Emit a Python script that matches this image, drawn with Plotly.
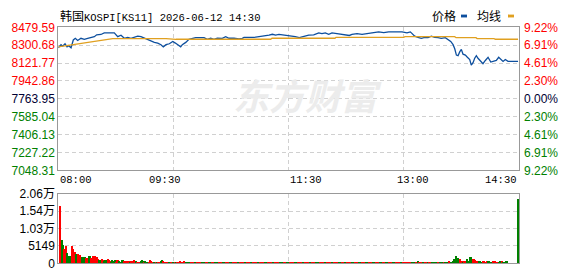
import plotly.graph_objects as go

# ---------------- data ----------------
prev_close = 7763.95
price_ticks = [8479.59, 8300.68, 8121.77, 7942.86, 7763.95, 7585.04, 7406.13, 7227.22, 7048.31]
pct_ticks = ["9.22%", "6.91%", "4.61%", "2.30%", "0.00%", "2.30%", "4.61%", "6.91%", "9.22%"]
vol_ticks = [0, 5149, 10298, 15447, 20596]
vol_tick_text = ["0", "5149", "1.03万", "1.54万", "2.06万"]
time_label_min = [0, 90, 210, 300, 390]
time_labels = ["08:00", "09:30", "11:30", "13:00", "14:30"]
grid_min = [97.5, 195, 292.5]

# minutes after 08:00 and price
price_time = [0, 2.3, 3.7, 5.7, 7.4, 8.8, 10.8, 12.7, 14.4, 16.4, 19.2, 22.0, 24.9, 27.7, 30.5,
              32.5, 36.1, 38.9, 43.2, 46.1, 47.4, 50.3, 53.1, 55.9, 58.8, 61.5, 64.3, 67.2, 70.0,
              72.8, 75.7, 78.5, 81.3, 84.2, 86.9, 88.9, 91.2, 94.0, 96.9, 99.1, 100.7, 103.6, 105.0,
              107.9, 110.6, 113.4, 116.3, 123.4, 126.1, 129.0, 131.8, 134.6, 138.8, 141.7, 144.5,
              148.7, 153.0, 155.8, 157.2, 165.7, 169.9, 172.7, 175.6, 178.4, 181.2, 184.0, 186.8,
              191.1, 195.3, 199.0, 200.6, 204.0, 207.8, 212.0, 216.2, 220.5, 223.2, 226.0, 228.9,
              231.7, 235.9, 240.2, 244.4, 246.4, 248.6, 252.9, 257.1, 261.3, 264.1, 268.4, 271.2,
              275.5, 279.7, 285.3, 291.0, 295.2, 298.0, 298.9, 301.7, 304.5, 307.3, 310.2, 313.0,
              315.8, 318.7, 321.5, 324.2, 327.6, 329.9, 332.2, 334.2, 335.6, 337.0, 338.4, 339.8,
              341.2, 342.6, 344.6, 346.3, 348.3, 349.6, 351.1, 352.5, 353.9, 355.3, 357.6, 359.5,
              361.5, 363.8, 366.1, 368.0, 370.8, 372.8, 374.5, 376.5, 378.4, 380.7, 389.2]
price_value = [8275, 8306, 8291, 8315, 8284, 8296, 8275, 8353, 8370, 8348, 8370, 8360, 8370, 8379, 8386,
               8405, 8408, 8424, 8424, 8417, 8424, 8386, 8401, 8370, 8379, 8370, 8379, 8391, 8386,
               8370, 8360, 8338, 8329, 8322, 8306, 8284, 8306, 8315, 8338, 8322, 8306, 8284, 8306,
               8329, 8360, 8370, 8376, 8376, 8360, 8370, 8360, 8372, 8370, 8386, 8370,
               8370, 8363, 8370, 8379, 8379, 8386, 8391, 8391, 8401, 8410, 8401, 8408,
               8401, 8395, 8395, 8386, 8376, 8391, 8401, 8405, 8424, 8417, 8424, 8410,
               8424, 8417, 8410, 8408, 8398, 8408, 8417, 8410, 8417, 8424, 8427, 8433,
               8427, 8433, 8433, 8433, 8424, 8433, 8424, 8391, 8379, 8370, 8379, 8376,
               8391, 8379, 8376, 8370, 8376, 8360, 8338, 8306, 8265, 8202, 8196, 8234,
               8259, 8211, 8202, 8180, 8158, 8101, 8126, 8170, 8196, 8170, 8139, 8116,
               8148, 8180, 8132, 8139, 8148, 8180, 8158, 8139, 8158, 8139, 8139]

avg_time = [0, 6.5, 12.2, 17.8, 23.5, 29.1, 34.7, 40.4, 46.1, 91.2, 99.6, 179.8, 180.9, 234.2, 235.1,
            292.4, 293.5, 335.6, 336.7, 353.6, 354.5, 368.9, 369.8, 389.2]
avg_value = [8284, 8296, 8306, 8315, 8329, 8338, 8348, 8360, 8367, 8367, 8360, 8360, 8370, 8370, 8379,
             8379, 8386, 8386, 8376, 8376, 8367, 8367, 8360, 8360]

# per-minute volume (index = minutes after 08:00)
volume = [
    0, 0, 17100, 7000, 5600, 4400, 3700, 5300, 3100, 2300,
    2150, 1700, 5150, 4200, 3450, 2800, 2800, 2800, 2350, 2550,
    1900, 1900, 1900, 1900, 1600, 1600, 2300, 2300, 1600, 1600,
    2150, 2150, 1900, 1900, 1400, 1200, 1200, 1400, 1150, 900,
    1200, 1200, 1400, 1000, 800, 600, 950, 650, 950, 500,
    950, 1200, 850, 500, 1200, 1000, 750, 650, 700, 650,
    800, 400, 650, 650, 950, 500, 700, 600, 400, 450,
    650, 950, 650, 450, 650, 600, 400, 500, 950, 650,
    400, 350, 500, 450, 600, 480, 470, 700, 1120, 700,
    500, 400, 350, 300, 400, 350, 300, 400, 450, 300,
    380, 350, 420, 750, 560, 560, 480, 620, 500, 300,
    280, 320, 300, 420, 380, 300, 260, 280, 350, 300,
    280, 250, 300, 260, 240, 300, 280, 260, 250, 280,
    300, 260, 280, 240, 250, 280, 300, 260, 240, 270,
    260, 280, 250, 300, 240, 260, 280, 250, 300, 260,
    250, 280, 260, 300, 240, 280, 250, 260, 300, 240,
    260, 240, 280, 250, 260, 300, 250, 240, 260, 280,
    250, 260, 300, 280, 250, 240, 260, 280, 250, 260,
    280, 250, 260, 240, 250, 280, 300, 260, 250, 240,
    250, 260, 280, 250, 240, 260, 280, 250, 300, 260,
    250, 240, 260, 280, 250, 260, 240, 250, 280, 260,
    250, 260, 240, 280, 250, 260, 300, 250, 280, 360,
    500, 560, 300, 260, 250, 280, 260, 240, 250, 260,
    250, 260, 280, 240, 250, 260, 240, 280, 250, 260,
    260, 240, 250, 280, 260, 250, 240, 260, 280, 250,
    240, 260, 250, 280, 260, 250, 240, 260, 250, 280,
    250, 260, 240, 280, 250, 260, 240, 250, 260, 280,
    260, 250, 280, 240, 250, 260, 280, 250, 260, 240,
    250, 260, 280, 250, 240, 260, 250, 280, 260, 250,
    260, 250, 240, 280, 250, 260, 280, 280, 280, 280,
    300, 560, 560, 280, 300, 840, 560, 300, 250, 280,
    280, 280, 280, 280, 280, 280, 250, 280, 280, 280,
    280, 280, 250, 280, 280, 280, 280, 250, 280, 280,
    280, 840, 280, 280, 650, 1400, 1400, 2250, 940, 1690,
    1220, 650, 650, 470, 840, 840, 1220, 650, 650, 1970,
    1970, 1400, 1400, 1030, 650, 650, 650, 650, 470, 470,
    840, 840, 470, 650, 650, 840, 470, 470, 650, 650,
    650, 470, 470, 470, 840, 840, 650, 470, 470, 840,
    840, 0, 0, 0, 0, 0, 0, 0, 0, 19200,
]
# R = price up in that minute, G = down
volume_dir = "".join([
    "RRRGGRRRGG", "GGRRRGGRRR", "GGGGRRGGRR", "RRRRRGGRRG", "GGRRRGGGGR",
    "RRGGGGRRRR", "RGRRRRGRRR", "GGGRGGGRRR", "RGGRGRRGGR", "RRRRGGRGGR",
    "GRRRRRRRGG", "GGGRRRGGRR", "RRGGGRRRGG", "RRRGGGRRRR", "GGRRRRGGRR",
    "RRGGRRRRGG", "RRRGGRRRRG", "GRRRRGGGRR", "RRGGRRRRGG", "GRRRGGRRRR",
    "RGGRRRRGGR", "RRRGGRRRGG", "GGRRRRGGRR", "RRGGRRRRGG", "RRRGGRRRRG",
    "GRRRRGGRRR", "RGGRRRRGGR", "RRRGGRRRGG", "RRRRGGRRRR", "GGRRRRRRRR",
    "GGGRRGRRRG", "GRRGRRRGGG", "GGRGGGGRGG", "GRRGGGGGGG", "RRRGRRGGGG",
    "GRRRRRGGGG", "RRRRGGGGRR", "RRRGGGRGGG", "GGGGGGGGGG",
])
vol_minutes = list(range(len(volume)))

# ---------------- styling ----------------
W, H = 578, 276
RED, GREEN, NAVY = "#ff0000", "#008000", "#000033"
BLUE_LINE, GOLD_LINE = "#0d4f9e", "#e0a020"
PX_L, PX_R = 58.3, 519.0
P_TOP, P_BOT = 21.4, 172.2
V_TOP, V_BOT = 196.7, 270.0

def xd(px):
    return px / W

def yd(py):
    return (H - py) / H

bar_colors = [RED if (volume_dir[i] if i < len(volume_dir) else "G") == "R" else GREEN
              for i in range(len(volume))]

def tick_color(v):
    if v > prev_close + 0.01:
        return RED
    if v < prev_close - 0.01:
        return GREEN
    return NAVY

left_text = [f'<span style="color:{tick_color(v)}">{v:.2f}</span>' for v in price_ticks]
right_text = [f'<span style="color:{tick_color(v)}">{t}</span>' for v, t in zip(price_ticks, pct_ticks)]

fig = go.Figure()
fig.add_trace(go.Scatter(x=avg_time, y=avg_value, mode="lines",
                         line=dict(color=GOLD_LINE, width=1.3), xaxis="x", yaxis="y3",
                         hoverinfo="skip"))
fig.add_trace(go.Scatter(x=price_time, y=price_value, mode="lines",
                         line=dict(color=BLUE_LINE, width=1.3), xaxis="x", yaxis="y",
                         hoverinfo="skip"))
fig.add_trace(go.Bar(x=vol_minutes, y=volume, marker=dict(color=bar_colors, line=dict(width=0)),
                     width=0.85, xaxis="x2", yaxis="y2", hoverinfo="skip"))

grid = dict(showgrid=True, gridcolor="#d0d0d0", griddash="4px,3px", gridwidth=1)
frame = dict(showline=True, mirror=True, linecolor="#999999", linewidth=1, zeroline=False, ticks="")
tickfont = dict(family="Liberation Sans, Arial, Noto Sans CJK SC", size=12)

fig.update_layout(
    width=W, height=H, autosize=False,
    margin=dict(l=0, r=0, t=0, b=0),
    paper_bgcolor="white", plot_bgcolor="white",
    showlegend=False, bargap=0,
    xaxis=dict(domain=[xd(PX_L), xd(PX_R)], range=[0, 390], tickvals=grid_min,
               showticklabels=False, anchor="y", **grid, **frame),
    yaxis=dict(domain=[yd(P_BOT), yd(P_TOP)], range=[price_ticks[-1], price_ticks[0]],
               tickvals=price_ticks, ticktext=left_text, tickfont=tickfont, anchor="x",
               **grid, **frame),
    yaxis3=dict(overlaying="y", side="right", range=[price_ticks[-1], price_ticks[0]],
                tickvals=price_ticks, ticktext=right_text, tickfont=tickfont, anchor="x",
                showgrid=False, zeroline=False, showline=False, ticks="", ticklabelstandoff=4),
    xaxis2=dict(domain=[xd(PX_L), xd(PX_R)], range=[0, 390], tickvals=grid_min,
                showticklabels=False, anchor="y2", **grid, **frame),
    yaxis2=dict(domain=[yd(V_BOT), yd(V_TOP)], range=[0, vol_ticks[-1]],
                tickvals=vol_ticks, ticktext=vol_tick_text,
                tickfont=dict(family="Liberation Sans, Arial, Noto Sans CJK SC", size=12, color="#000000"),
                anchor="x2", **grid, **frame),
)

annotations = []
# time labels
for m, lab in zip(time_label_min, time_labels):
    anchor = "left" if m == time_label_min[0] else ("right" if m == time_label_min[-1] else "center")
    annotations.append(dict(x=m, xref="x", y=yd(182.5), yref="paper", text=lab, showarrow=False,
                            xanchor=anchor, yanchor="middle",
                            font=dict(family="Liberation Mono, DejaVu Sans Mono", size=10.5, color="#000000")))
# title
annotations.append(dict(x=xd(58), y=yd(8.5), xref="paper", yref="paper", xanchor="left", yanchor="middle",
                        showarrow=False,
                        text='<span style="font-family:Noto Sans CJK SC;font-size:12px">韩国</span>KOSPI[KS11] 2026-06-12 14:30',
                        font=dict(family="Liberation Mono, DejaVu Sans Mono", size=10.5, color="#000000")))
# legend labels
annotations.append(dict(x=xd(443.5), y=yd(9), xref="paper", yref="paper", showarrow=False,
                        xanchor="center", yanchor="middle",
                        text="价格", font=dict(family="Noto Sans CJK SC", size=12, color="#000000")))
annotations.append(dict(x=xd(488.5), y=yd(9), xref="paper", yref="paper", showarrow=False,
                        xanchor="center", yanchor="middle",
                        text="均线", font=dict(family="Noto Sans CJK SC", size=12, color="#000000")))
# watermark
annotations.append(dict(x=xd(308), y=yd(92), xref="paper", yref="paper", showarrow=False,
                        xanchor="center", yanchor="middle",
                        text="<b><i>东方财富</i></b>",
                        font=dict(family="Noto Sans CJK SC", size=36, color="#ececec")))
fig.update_layout(annotations=annotations)

# legend keys (small coloured dashes after each label)
fig.update_layout(shapes=[
    dict(type="rect", xref="paper", yref="paper", x0=xd(461), x1=xd(467), y0=yd(11), y1=yd(8),
         fillcolor=BLUE_LINE, line=dict(width=0)),
    dict(type="rect", xref="paper", yref="paper", x0=xd(508), x1=xd(514), y0=yd(11), y1=yd(8),
         fillcolor=GOLD_LINE, line=dict(width=0)),
])

fig.write_html("out.html")
